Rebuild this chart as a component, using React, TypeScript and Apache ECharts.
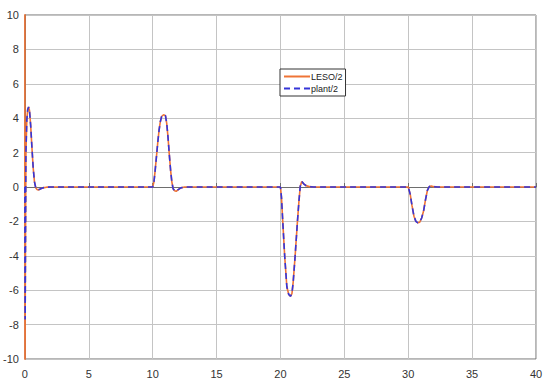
import React, { useEffect, useRef } from "react";
import * as echarts from "echarts";

const xTicks = [0, 5, 10, 15, 20, 25, 30, 35, 40];
const yTicks = [-10, -8, -6, -4, -2, 0, 2, 4, 6, 8, 10];

const time = [
  0, 0.005, 0.02, 0.05, 0.08, 0.15, 0.22, 0.29, 0.36, 0.45, 0.55, 0.65, 0.75, 0.85, 0.95, 1.05, 1.2, 1.4, 1.7, 2.0,
  10.0, 10.1, 10.2, 10.3, 10.4, 10.5, 10.6, 10.7, 10.85, 11.0, 11.1, 11.2, 11.3, 11.4, 11.5, 11.6, 11.72, 11.84, 12.0, 12.2, 12.5,
  20.0, 20.08, 20.18, 20.33, 20.5, 20.65, 20.78, 20.9, 21.0, 21.15, 21.33, 21.45, 21.55, 21.67, 21.8, 22.0, 22.3, 22.6,
  30.0, 30.15, 30.3, 30.45, 30.6, 30.75, 30.9, 31.05, 31.2, 31.35, 31.5, 31.65, 31.8, 32.0, 32.3,
  40,
];

const leso = [
  12, -12, -7.7, -3, 2, 3.9, 4.5, 4.65, 4.45, 3.6, 2.3, 1.1, 0.3, -0.05, -0.15, -0.17, -0.12, -0.05, -0.01, 0,
  0, 0.3, 1.0, 1.8, 2.6, 3.3, 3.8, 4.1, 4.2, 4.15, 3.7, 2.9, 1.9, 1.0, 0.3, -0.1, -0.22, -0.25, -0.15, -0.05, 0,
  0, -0.6, -2.0, -4.0, -5.8, -6.25, -6.35, -6.2, -5.5, -4.0, -2.0, -0.8, 0.05, 0.32, 0.2, 0.08, 0.02, 0,
  0, -0.4, -1.1, -1.7, -2.0, -2.08, -2.05, -1.8, -1.4, -0.75, -0.2, 0.03, 0.06, 0.02, 0,
  0,
];

const plant = [
  0, -4, -7.7, -3, 2, 3.9, 4.5, 4.65, 4.45, 3.6, 2.3, 1.1, 0.3, -0.05, -0.15, -0.17, -0.12, -0.05, -0.01, 0,
  0, 0.3, 1.0, 1.8, 2.6, 3.3, 3.8, 4.1, 4.2, 4.15, 3.7, 2.9, 1.9, 1.0, 0.3, -0.1, -0.22, -0.25, -0.15, -0.05, 0,
  0, -0.6, -2.0, -4.0, -5.8, -6.25, -6.35, -6.2, -5.5, -4.0, -2.0, -0.8, 0.05, 0.32, 0.2, 0.08, 0.02, 0,
  0, -0.4, -1.1, -1.7, -2.0, -2.08, -2.05, -1.8, -1.4, -0.75, -0.2, 0.03, 0.06, 0.02, 0,
  0,
];

const seriesNames = ["LESO/2", "plant/2"];

export default function App() {
  const ref = useRef<HTMLDivElement>(null);
  useEffect(() => {
    if (!ref.current) return;
    const chart = echarts.init(ref.current, null, { renderer: "svg" });
    const font = "Liberation Sans";
    chart.setOption({
      animation: false,
      backgroundColor: "#ffffff",
      grid: {
        left: 22,
        right: 14,
        top: 15,
        bottom: 30,
        show: true,
        borderColor: "#6e6e6e",
        borderWidth: 1,
      },
      legend: {
        orient: "vertical",
        left: 280,
        top: 69,
        padding: [3, 3, 3, 3],
        itemGap: 3,
        itemWidth: 26,
        itemHeight: 8,
        borderColor: "#333",
        borderWidth: 1,
        backgroundColor: "#fff",
        itemStyle: { opacity: 0 },
        textStyle: { fontSize: 9, fontFamily: font, color: "#222", padding: [0, 0, 0, -4] },
        data: seriesNames,
      },
      xAxis: {
        type: "value",
        min: 0,
        max: 40,
        interval: 5,
        axisLine: { show: true, lineStyle: { color: "#6e6e6e" } },
        axisTick: { show: true, inside: true, length: 4, lineStyle: { color: "#6e6e6e" } },
        axisLabel: { color: "#333", fontSize: 11, fontFamily: font, margin: 9, customValues: xTicks },
        splitLine: { show: true, lineStyle: { color: "#c4c4c4", width: 1 } },
      },
      yAxis: {
        type: "value",
        min: -10,
        max: 10,
        interval: 2,
        axisLine: { show: true, lineStyle: { color: "#6e6e6e" } },
        axisTick: { show: false },
        axisLabel: { color: "#333", fontSize: 11, fontFamily: font, margin: 6, customValues: yTicks },
        splitLine: { show: true, lineStyle: { color: "#c4c4c4", width: 1 } },
      },
      series: [
        {
          name: seriesNames[0],
          type: "line",
          symbol: "none",
          clip: true,
          data: time.map((t, i) => [t, leso[i]]),
          lineStyle: { color: "#ef7436", width: 1.6 },
          itemStyle: { color: "#ef7436" },
        },
        {
          name: seriesNames[1],
          type: "line",
          symbol: "none",
          clip: true,
          data: time.map((t, i) => [t, plant[i]]),
          lineStyle: { color: "#3535d8", width: 1.6, type: [6, 4] },
          itemStyle: { color: "#3535d8" },
        },
      ],
    });
    return () => chart.dispose();
  }, []);
  return <div ref={ref} style={{ width: 550, height: 389, position: "absolute", left: 0, top: 0 }} />;
}
